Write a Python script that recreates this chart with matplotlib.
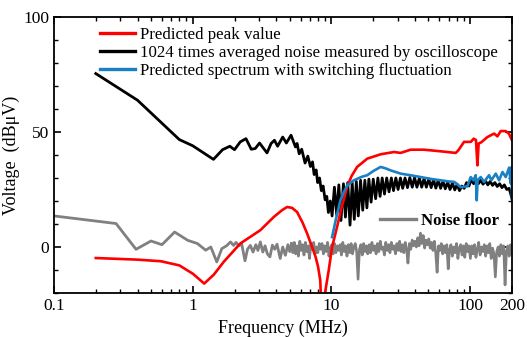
import matplotlib

matplotlib.use("Agg")
import matplotlib.pyplot as plt
import numpy as np
from matplotlib.lines import Line2D
from matplotlib.ticker import LogLocator, MultipleLocator, NullFormatter

RED_C = "#FF0000"
BLACK_C = "#000000"
BLUE_C = "#1A80C4"
GRAY_C = "#808080"

matplotlib.rcParams.update({
    "font.family": "serif",
    "font.serif": ["Liberation Serif", "DejaVu Serif"],
    "font.size": 12,
    "axes.linewidth": 1.3,
})

# ── data ──────────────────────────────────────────────────────────────

# predicted peak value
RED_F = [0.2, 0.4, 0.59, 0.8, 1.0, 1.21, 1.42, 1.67, 2.2, 3.07, 3.83, 4.4,
         4.79, 5.2, 5.65, 6.2, 6.68, 7.2, 7.68, 8.0, 8.3, 8.57, 9.05, 9.56,
         10.1, 11.0, 11.8, 12.5, 13.0, 14.0, 15.3, 18.1, 22.6, 28.2, 31.5,
         37.2, 46.5, 61.2, 78.6, 82.0, 85.3, 90.2, 101, 106, 110, 112.7, 115,
         120, 133, 148.6, 157, 166, 180, 190, 200]
RED_DB = [-4.8, -5.5, -6.2, -8.0, -11.6, -15.9, -12.0, -6.5, 1.5, 7.3, 13.0,
          16.0, 17.4, 17.0, 15.2, 10.5, 5.8, 0.5, -4.3, -8.5, -14.5, -35.0,
          -18.8, -10.0, 0.0, 9.0, 17.0, 22.5, 26.4, 31.0, 34.8, 38.4, 40.3,
          41.3, 40.9, 42.3, 42.3, 41.6, 40.9, 42.0, 43.5, 45.7, 45.7, 47.1,
          46.5, 35.5, 45.0, 45.5, 47.8, 49.3, 48.1, 50.4, 50.4, 49.3, 46.4]

# 1024 times averaged noise measured by oscilloscope
BLACK_F = [0.2, 0.4, 0.8, 1.0, 1.41, 1.64, 1.85, 2.0, 2.2, 2.42, 2.64, 2.82,
           3.03, 3.43, 3.67, 3.88, 4.09, 4.45, 4.73, 5.11, 5.5, 5.65, 5.85,
           6.1, 6.45, 6.75, 7.05, 7.3, 7.5, 7.75, 7.95, 8.2, 8.45, 8.7, 9.0,
           9.25, 9.5, 9.8,
           10.1, 10.5, 10.9, 11.3, 11.7, 12.2, 12.6, 13.1, 13.6, 14.1, 14.6,
           15.1, 15.6, 16.2, 16.8, 17.4, 18.0, 18.6, 19.3, 20.0, 20.8, 21.6,
           22.4, 23.2, 24.1, 25.0, 26.0, 27.0, 28.0, 29.1, 30.2, 31.4, 32.6,
           33.9, 35.3, 36.7, 38.2, 39.7, 41.3, 43.0, 44.7, 46.5, 48.3, 50.3,
           52.3, 54.4, 56.5, 58.8, 61.2, 63.6, 66.1, 68.8, 71.5, 74.4, 77.4,
           80.5, 83.7, 87.0, 90.5, 94.1, 97.9, 101.8, 105.9, 110, 114.5, 119,
           123.8, 128.8, 133.9, 139.3, 144.8, 150.6, 156.7, 162.9, 169.4,
           176.2, 183.3, 190.6, 196, 200]
BLACK_DB = [75.4, 63.8, 46.7, 44.0, 38.1, 42.3, 43.8, 42.3, 45.7, 47.1, 42.5,
            42.8, 45.2, 40.9, 45.0, 46.4, 43.8, 47.8, 45.2, 48.6, 43.5, 45.0,
            40.5, 42.5, 36.5, 39.5, 35.0, 37.0, 31.5, 33.5, 28.0, 30.0, 24.5,
            26.5, 20.5, 22.0, 15.0, 20.0,
            13.5, 26.0, 14.0, 27.0, 11.5, 27.5, 13.0, 28.0, 9.5, 28.0, 12.0,
            28.5, 13.5, 29.0, 16.0, 29.0, 17.0, 29.5, 19.5, 29.5, 21.0, 30.0,
            22.0, 30.0, 23.0, 30.0, 24.0, 30.0, 24.5, 30.0, 25.0, 30.0, 25.5,
            30.0, 25.8, 30.2, 26.0, 30.2, 26.0, 30.0, 26.0, 29.8, 26.0, 29.6,
            25.8, 29.3, 25.6, 29.0, 25.5, 28.6, 25.3, 28.2, 25.0, 27.8, 24.8,
            27.2, 24.5, 26.5, 25.5, 28.0, 26.5, 29.3, 27.5, 29.5, 27.5, 29.0,
            27.3, 28.8, 27.0, 28.5, 26.8, 28.0, 26.3, 27.5, 25.8, 27.0, 25.0,
            25.5, 23.0, 21.0]

# predicted spectrum with switching fluctuation
BLUE_F = [10.1, 10.8, 11.6, 12.3, 13.0, 14.5, 16.5, 18.1, 20.0, 22.6, 24.5,
          26.7, 31.5, 37.0, 44.0, 52.0, 61.0, 70.0, 76.6, 80.0, 85.3, 90.0,
          95.5, 100.8, 105.5, 109.6, 111.4, 113, 119, 125.8, 136.8, 142,
          152.8, 161.5, 170.8, 180.4, 190.6, 196, 199, 200]
BLUE_DB = [4.3, 12.5, 20.3, 24.0, 26.8, 29.0, 30.5, 31.2, 33.0, 34.8, 34.2,
           33.3, 31.9, 31.2, 30.4, 29.6, 29.0, 28.5, 28.3, 27.5, 26.0, 26.2,
           26.4, 30.4, 29.0, 31.2, 20.3, 29.0, 30.4, 28.3, 31.2, 29.0, 31.9,
           29.0, 32.6, 30.4, 34.5, 27.6, 34.8, 21.0]

# noise floor, sparse part (0.1 - 5 MHz)
FLOOR_F = [0.1, 0.28, 0.39, 0.5, 0.6, 0.74, 0.92, 1.08, 1.24, 1.35, 1.49,
           1.62, 1.75, 1.87, 1.97, 2.05, 2.15, 2.25, 2.38, 2.48, 2.6, 2.72,
           2.85, 2.95, 3.07, 3.2, 3.32, 3.45, 3.6, 3.75, 3.9, 4.05, 4.27, 4.45,
           4.65, 4.85, 5.0]
FLOOR_DB = [13.5, 10.2, -1.0, 2.6, 1.0, 6.5, 2.9, 1.5, -1.4, 0.0, -6.5, -0.7,
            0.5, 2.2, 0.7, 2.0, 0.5, 1.5, -6.0, -1.0, 0.7, -2.2, 1.0, -1.5,
            2.2, -2.2, 0.5, -3.0, -4.3, 0.8, -1.0, 1.2, -5.0, 0.0, -3.6, 1.0,
            -2.0]
# noise floor, dense part (5 - 200 MHz, log-spaced samples)
FLOOR_HI_DB = [
    1.5, -2.5, 2.0, -3.0, 0.5, -4.0, 2.5, -1.5, 1.0, -3.5,
    2.0, -2.0, 0.5, -5.0, 1.5, -1.0, 2.0, -3.0, 0.0, -2.5,
    1.5, -1.0, 1.5, -3.0, 0.5, -2.0, 2.0, -4.0, -0.5, 1.0,
    -3.0, 1.5, -2.5, 0.5, -1.5, 1.0, -3.5, 2.0, -2.0, 0.5,
    -4.0, 1.0, -2.5, 1.5, -3.0, 0.0, 1.5, -2.0, -14.0, -1.0,
    1.0, -3.5, 1.5, -2.0, 0.5, -3.0, 1.0, -2.5, 2.0, -1.5,
    0.5, -3.0, 1.5, -2.0, 2.5, -1.0, 0.0, -3.5, 2.0, -1.5,
    1.0, -2.5, 2.0, -1.0, 0.5, -3.0, 1.5, -1.5, 2.5, -2.0,
    1.0, -2.5, 2.0, -1.0, -7.0, 1.5, -1.0, 3.0, 0.5, 2.5,
    0.0, 4.0, 0.5, 6.0, 1.5, 5.0, -0.5, 3.0, 1.0, 3.5,
    -0.5, 2.0, -1.5, 2.5, -2.5, -11.0, 0.5, -1.5, 1.5, -3.0,
    0.5, -2.5, 1.0, -9.5, -1.0, 1.0, -4.0, 0.0, -2.5, 1.5,
    -5.0, -0.5, 1.0, -3.5, 0.5, -4.5, 1.5, -2.0, 0.5, -5.0,
    0.5, -3.0, 1.0, -4.5, -1.0, 2.0, -3.5, 0.0, -2.0, 1.0,
    -4.0, 0.5, -2.5, 1.5, -5.0, -0.5, -3.0, -13.0, -2.0, 0.0,
    -4.0, 1.0, -3.0, 0.5, -16.5, -2.0, 0.5, -4.0, 1.0, -2.7,
]
FLOOR_HI_F = np.geomspace(5.15, 200, len(FLOOR_HI_DB))

LEGEND_LABELS = ["Predicted peak value",
                 "1024 times averaged noise measured by oscilloscope",
                 "Predicted spectrum with switching fluctuation"]
X_TICKS = [0.1, 1, 10, 100, 200]
X_TICKLABELS = ["0.1", "1", "10", "100", "200"]
Y_TICKS = [0, 50, 100]

# ── figure ────────────────────────────────────────────────────────────

fig = plt.figure(figsize=(5.27, 3.37), dpi=100)
ax = fig.add_axes([0.1025, 0.1306, 0.869, 0.819])

ax.plot(FLOOR_F + [FLOOR_HI_F[0]], FLOOR_DB + [FLOOR_HI_DB[0]],
        color=GRAY_C, lw=2.0)
ax.plot(FLOOR_HI_F, FLOOR_HI_DB, color=GRAY_C, lw=1.9)
ax.plot(BLACK_F, BLACK_DB, color=BLACK_C, lw=2.0)
ax.plot(RED_F, RED_DB, color=RED_C, lw=1.9)
ax.plot(BLUE_F, BLUE_DB, color=BLUE_C, lw=1.9)

ax.set_xscale("log")
ax.set_xlim(0.1, 200)
ax.set_ylim(-20, 100)
ax.set_xticks(X_TICKS)
ax.set_xticklabels(X_TICKLABELS)
ax.xaxis.set_minor_locator(LogLocator(base=10, subs=np.arange(2, 10)))
ax.xaxis.set_minor_formatter(NullFormatter())
ax.set_yticks(Y_TICKS)
ax.yaxis.set_minor_locator(MultipleLocator(10))
ax.tick_params(which="both", direction="in", top=True, right=True,
               labelsize=12.5)
ax.tick_params(which="major", length=5, width=1.2)
ax.tick_params(which="minor", length=3, width=1.0)

ax.set_xlabel("Frequency (MHz)", fontsize=13)
ax.set_ylabel("Voltage  (dBμV)", fontsize=13, labelpad=2)

handles = [Line2D([], [], color=c, lw=2.4) for c in (RED_C, BLACK_C, BLUE_C)]
leg = ax.legend(handles, LEGEND_LABELS, loc="upper left",
                bbox_to_anchor=(0.1, 0.964), frameon=False, borderpad=0,
                borderaxespad=0, handlelength=2.1, handletextpad=0.3,
                labelspacing=0.12, fontsize=12.2)
ax.add_artist(leg)
ax.legend([Line2D([], [], color=GRAY_C, lw=2.4)], ["Noise floor"],
          loc="upper left", bbox_to_anchor=(0.712, 0.29), frameon=False,
          borderpad=0, borderaxespad=0, handlelength=2.1, handletextpad=0.3,
          prop={"weight": "bold", "size": 12.2})

fig.savefig("out.png", dpi=100)
plt.close(fig)
